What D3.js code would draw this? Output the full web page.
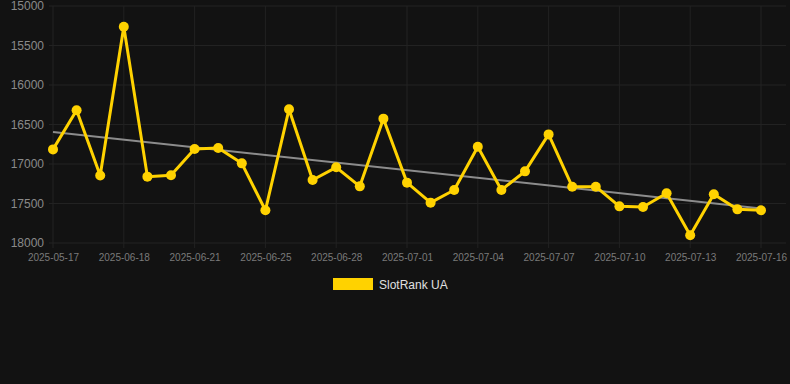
<!DOCTYPE html>
<html>
<head>
<meta charset="utf-8">
<script src="https://cdn.jsdelivr.net/npm/d3@7"></script>
<style>
  html, body { margin: 0; padding: 0; background: #121212; }
  svg { display: block; font-family: "Liberation Sans", Arial, sans-serif; }
</style>
</head>
<body>
<svg width="790" height="384"></svg>
<script>
// dates (categorical, not evenly spaced)
var dates = [
  "2025-05-17", "2025-06-16", "2025-06-17", "2025-06-18", "2025-06-19", "2025-06-20",
  "2025-06-21", "2025-06-22", "2025-06-24", "2025-06-25", "2025-06-26", "2025-06-27",
  "2025-06-28", "2025-06-29", "2025-06-30", "2025-07-01", "2025-07-02", "2025-07-03",
  "2025-07-04", "2025-07-05", "2025-07-06", "2025-07-07", "2025-07-08", "2025-07-09",
  "2025-07-10", "2025-07-11", "2025-07-12", "2025-07-13", "2025-07-14", "2025-07-15",
  "2025-07-16"
];
// rank values
var ranks = [
  16815, 16320, 17145, 15262, 17160, 17143,
  16810, 16797, 16992, 17586, 16308, 17203,
  17042, 17283, 16426, 17236, 17489, 17329,
  16781, 17329, 17093, 16625, 17287, 17287,
  17536, 17544, 17371, 17903, 17384, 17574,
  17586
];
// trend line end values
var trendValues = [16595, 17562];
var yTicks = [15000, 15500, 16000, 16500, 17000, 17500, 18000];
var seriesName = "SlotRank UA";

var svg = d3.select("svg");
var plotLeft = 53, plotRight = 761, plotTop = 6, plotBottom = 243;

var x = d3.scalePoint().domain(dates).range([plotLeft, plotRight]);
var y = d3.scaleLinear().domain([15000, 18000]).range([plotTop, plotBottom]);

var labelDates = dates.filter(function (d, i) { return i % 3 === 0; });

// grid
var grid = svg.append("g");
grid.selectAll("line.h")
    .data(yTicks)
    .enter().append("line")
    .attr("class", "h")
    .attr("x1", 49).attr("x2", 786)
    .attr("y1", function (d) { return y(d); })
    .attr("y2", function (d) { return y(d); })
    .attr("stroke", "#222")
    .attr("stroke-width", 1);
grid.selectAll("line.v")
    .data(labelDates)
    .enter().append("line")
    .attr("class", "v")
    .attr("x1", function (d) { return x(d); })
    .attr("x2", function (d) { return x(d); })
    .attr("y1", plotTop).attr("y2", plotBottom + 5)
    .attr("stroke", "#222")
    .attr("stroke-width", 1);

// y axis labels
var yAxis = svg.append("g")
    .attr("transform", "translate(44,0)")
    .call(d3.axisLeft(y).tickValues(yTicks).tickFormat(d3.format("d")).tickSize(0).tickPadding(0));
yAxis.select(".domain").remove();
yAxis.selectAll("text")
    .attr("fill", "#8a8a8a")
    .attr("font-size", "12px")
    .attr("font-family", "\"Liberation Sans\", Arial, sans-serif");

// x axis labels
var xAxis = svg.append("g")
    .attr("transform", "translate(0," + plotBottom + ")")
    .call(d3.axisBottom(x).tickValues(labelDates).tickSize(0).tickPadding(11));
xAxis.select(".domain").remove();
xAxis.selectAll("text")
    .attr("fill", "#7a7a7a")
    .attr("font-size", "10px")
    .attr("font-family", "\"Liberation Sans\", Arial, sans-serif");

// trend line
svg.append("line")
    .attr("x1", x(dates[0]))
    .attr("x2", x(dates[dates.length - 1]))
    .attr("y1", y(trendValues[0]))
    .attr("y2", y(trendValues[1]))
    .attr("stroke", "#8c8c8c")
    .attr("stroke-width", 2);

// series line
var line = d3.line()
    .x(function (d, i) { return x(dates[i]); })
    .y(function (d) { return y(d); });

svg.append("path")
    .datum(ranks)
    .attr("d", line)
    .attr("fill", "none")
    .attr("stroke", "#ffd200")
    .attr("stroke-width", 3)
    .attr("stroke-linejoin", "round");

svg.append("g").selectAll("circle")
    .data(ranks)
    .enter().append("circle")
    .attr("cx", function (d, i) { return x(dates[i]); })
    .attr("cy", function (d) { return y(d); })
    .attr("r", 5)
    .attr("fill", "#ffd200");

// legend
var legend = svg.append("g").attr("transform", "translate(333,278)");
legend.append("rect")
    .attr("width", 40).attr("height", 12)
    .attr("fill", "#ffd200");
legend.append("text")
    .attr("x", 46).attr("y", 10.5)
    .attr("fill", "#e0e0e0")
    .attr("font-size", "12px")
    .text(seriesName);
</script>
</body>
</html>
